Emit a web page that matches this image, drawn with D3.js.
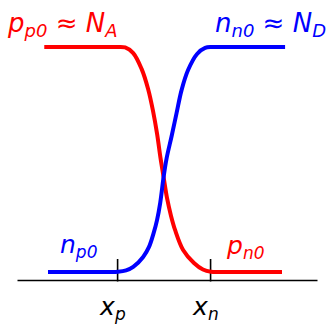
<!DOCTYPE html>
<html>
<head>
<meta charset="utf-8">
<script src="https://cdn.jsdelivr.net/npm/d3@7/dist/d3.min.js"></script>
<style>
  html, body { margin: 0; padding: 0; background: #fff; }
  svg { display: block; }
  text { font-family: "DejaVu Sans", sans-serif; font-style: italic; }
</style>
</head>
<body>
<svg id="chart" width="328" height="327"></svg>
<script>
// Position along the junction (arbitrary units); depletion edges at xp and xn
const xExtent = [-4.73, 4.95];
const junctionEdges = [-1.5, 1.5];
const edgeLabels = [["x", "p"], ["x", "n"]];

// Normalised carrier concentration (1 = majority level)
const holeX = [-3.85, -2.6, -1.55, -1.24, -0.98, -0.71, -0.50, -0.34, -0.21, -0.10, 0.0, 0.11, 0.24, 0.37, 0.63, 0.98, 1.27, 1.53, 1.85, 2.8, 3.82];
const holeY = [1.0, 1.0, 1.0, 0.998, 0.974, 0.906, 0.820, 0.725, 0.627, 0.524, 0.442, 0.352, 0.275, 0.215, 0.129, 0.073, 0.045, 0.035, 0.034, 0.034, 0.034];

const electronX = [-3.73, -2.6, -1.8, -1.47, -1.21, -0.98, -0.66, -0.47, -0.32, -0.21, -0.11, 0.0, 0.10, 0.26, 0.42, 0.58, 0.79, 1.08, 1.34, 1.56, 1.9, 2.9, 3.92];
const electronY = [0.034, 0.034, 0.034, 0.035, 0.041, 0.056, 0.099, 0.142, 0.202, 0.258, 0.330, 0.442, 0.524, 0.618, 0.717, 0.815, 0.901, 0.970, 0.996, 1.0, 1.0, 1.0, 1.0];

const svg = d3.select("#chart");
const x = d3.scaleLinear().domain(xExtent).range([17, 317]);
const y = d3.scaleLinear().domain([0, 1]).range([280, 47]);

// Axis with the two edge ticks pointing up
const axis = d3.axisTop(x).tickValues(junctionEdges).tickSizeInner(21).tickSizeOuter(0).tickFormat("");
const gAxis = svg.append("g").attr("transform", "translate(0,280)").call(axis);
gAxis.select(".domain").attr("stroke", "#000").attr("stroke-width", 1.6);
gAxis.selectAll(".tick line").attr("stroke", "#000").attr("stroke-width", 1.6).attr("y2", -21).attr("y1", 1.5);

const line = d3.line().x(d => x(d[0])).y(d => y(d[1])).curve(d3.curveCatmullRom.alpha(0.5));

svg.append("path")
  .datum(holeX.map((v, i) => [v, holeY[i]]))
  .attr("d", line).attr("fill", "none").attr("stroke", "#ff0000").attr("stroke-width", 4);

svg.append("path")
  .datum(electronX.map((v, i) => [v, electronY[i]]))
  .attr("d", line).attr("fill", "none").attr("stroke", "#0000ff").attr("stroke-width", 4);

// Label with subscripted pieces: parts = [[text, isSub], ...]
function label(px, py, parts, color, size, subSize) {
  const t = svg.append("text").attr("x", px).attr("y", py).attr("fill", color).attr("font-size", size);
  let sub = false;
  parts.forEach(([s, isSub]) => {
    const sp = t.append("tspan").text(s);
    if (isSub) sp.attr("font-size", subSize);
    if (isSub !== sub) sp.attr("dy", isSub ? 5 : -5);
    sub = isSub;
  });
  return t;
}

label(8, 32, [["p", false], ["p0", true], [" \u2248 N", false], ["A", true]], "#ff0000", 26, 18);
label(215, 32, [["n", false], ["n0", true], [" \u2248 N", false], ["D", true]], "#0000ff", 26, 18);
label(60, 253, [["n", false], ["p0", true]], "#0000ff", 25, 17);
label(227, 254, [["p", false], ["n0", true]], "#ff0000", 25, 17);

edgeLabels.forEach((lab, i) => {
  label(x(junctionEdges[i]) - 17, 315, [[lab[0], false], [lab[1], true]], "#000", 25, 17);
});
</script>
</body>
</html>
